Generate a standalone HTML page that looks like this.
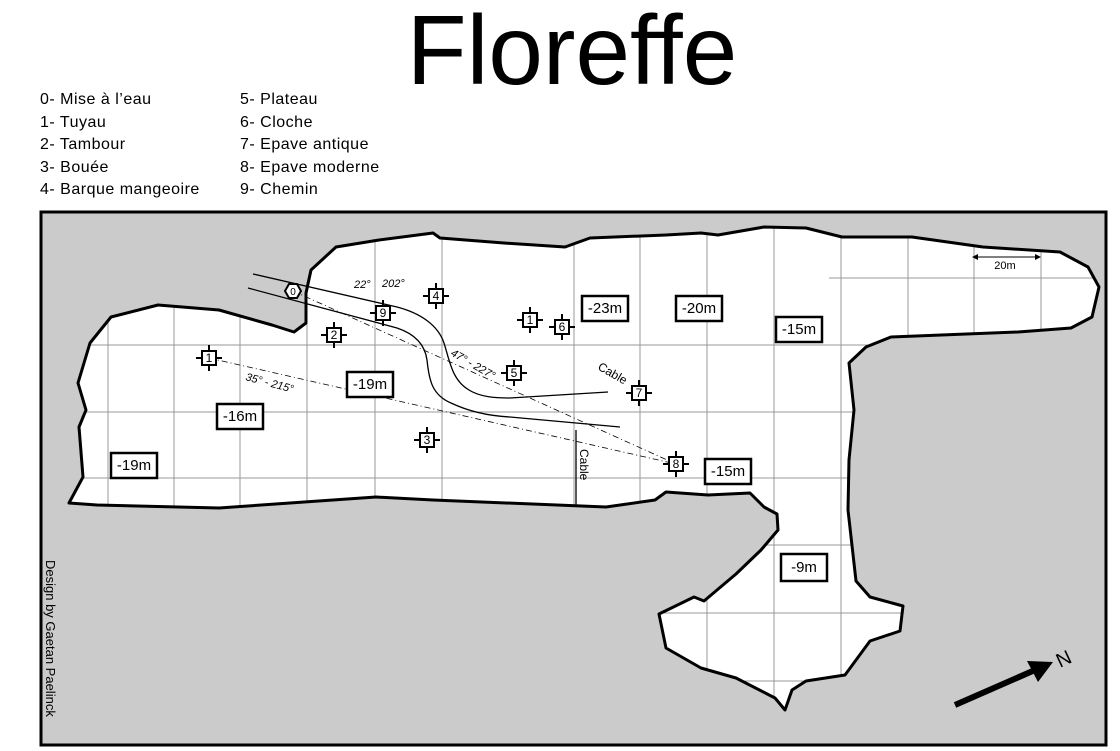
<!DOCTYPE html>
<html><head><meta charset="utf-8"><style>
html,body{margin:0;padding:0;background:#fff;}
body{width:1120px;height:751px;overflow:hidden;position:relative;font-family:"Liberation Sans",sans-serif;}
</style></head><body>
<svg width="1120" height="751" viewBox="0 0 1120 751" xmlns="http://www.w3.org/2000/svg" style="position:absolute;left:0;top:0">
<defs>
<path id="lp" d="M111,317 L158,305 L219,310 L272,325 L294,332 L306,323 L306,293 L311,270 L336,247 L379,240 L433,233 L440,238 L504,243 L565,247 L590,238 L666,235 L701,233 L718,235 L764,227 L806,228 L842,237 L912,237 L983,247 L1060,252 L1088,267 L1099,287 L1092,317 L1071,328 L1018,332 L891,337 L866,347 L849,363 L854,410 L849,460 L848,510 L856,581 L870,597 L903,606 L900,631 L870,641 L845,675 L806,681 L792,690 L785,710 L775,698 L736,678 L701,668 L666,648 L659,614 L694,597 L704,601 L736,574 L761,550 L778,530 L777,514 L764,507 L750,493 L708,495 L666,492 L655,500 L606,507 L433,500 L376,497 L290,503 L219,508 L97,505 L69,503 L83,477 L79,427 L86,410 L78,383 L90,343 Z"/>
<clipPath id="land"><use href="#lp"/></clipPath>
</defs>
<text x="572" y="84" font-size="98" text-anchor="middle" font-family="Liberation Sans, sans-serif">Floreffe</text>
<g font-size="16" letter-spacing="0.5" font-family="Liberation Sans, sans-serif">
<text x="40" y="104">0- Mise à l’eau</text>
<text x="40" y="127">1- Tuyau</text>
<text x="40" y="149">2- Tambour</text>
<text x="40" y="172">3- Bouée</text>
<text x="40" y="194">4- Barque mangeoire</text>
<text x="240" y="104">5- Plateau</text>
<text x="240" y="127">6- Cloche</text>
<text x="240" y="149">7- Epave antique</text>
<text x="240" y="172">8- Epave moderne</text>
<text x="240" y="194">9- Chemin</text>
</g>
<rect x="41" y="212" width="1065" height="533" fill="#cbcbcb" stroke="#000" stroke-width="3"/>
<use href="#lp" fill="#fff"/>
<g clip-path="url(#land)" stroke="#999" stroke-width="1">
<path d="M108,200V750M174,200V750M240,200V750M307,200V750M375,200V750M442,200V750M574,200V750M640,200V750M707,200V750M774,200V750M841,200V750M908,200V750M974,200V750M1041,200V750"/>
<path d="M829,278H1110M40,345H1110M40,412H1110M40,478H1110M40,545H1110M40,613H1110M40,681H1110"/>
</g>
<use href="#lp" fill="none" stroke="#000" stroke-width="3" stroke-linejoin="round"/>
<path d="M253,274 L397,307 C420,313 438,325 444,343 C450,362 452,380 469,390 C480,397 495,398 510,398 L608,392" fill="none" stroke="#000" stroke-width="1.3"/>
<path d="M248,288 L397,328 C415,334 425,345 427,360 C429,380 432,395 451,403 C470,412 490,416 510,417 L620,427" fill="none" stroke="#000" stroke-width="1.3"/>
<path d="M293,291 L676,464 M209,358 L676,464" stroke="#000" stroke-width="0.8" stroke-dasharray="6,3,1,3" fill="none"/>
<path d="M576,430 V505" stroke="#000" stroke-width="1.3"/>
<text transform="translate(580,449) rotate(90)" font-size="12">Cable</text>
<text transform="translate(597,369) rotate(30)" font-size="12">Cable</text>
<g font-size="11" font-style="italic">
<text x="354" y="288">22°</text><text x="382" y="287">202°</text>
<text transform="translate(450,355) rotate(30)">47° - 227°</text>
<text transform="translate(245,380) rotate(15)">35° - 215°</text>
</g>
<polygon points="285,291 289,284 297,284 301,291 297,298 289,298" fill="#fff" stroke="#000" stroke-width="2"/>
<text x="293" y="295" font-size="10" text-anchor="middle">0</text>
<g stroke="#000" stroke-width="2" fill="#fff" font-size="12">
<g transform="translate(436,296)"><path d="M-13,0H13M0,-13V13"/><rect x="-7" y="-7" width="14" height="14"/><text x="0" y="4" text-anchor="middle" stroke="none" fill="#000">4</text></g>
<g transform="translate(383,313)"><path d="M-13,0H13M0,-13V13"/><rect x="-7" y="-7" width="14" height="14"/><text x="0" y="4" text-anchor="middle" stroke="none" fill="#000">9</text></g>
<g transform="translate(334,335)"><path d="M-13,0H13M0,-13V13"/><rect x="-7" y="-7" width="14" height="14"/><text x="0" y="4" text-anchor="middle" stroke="none" fill="#000">2</text></g>
<g transform="translate(209,358)"><path d="M-13,0H13M0,-13V13"/><rect x="-7" y="-7" width="14" height="14"/><text x="0" y="4" text-anchor="middle" stroke="none" fill="#000">1</text></g>
<g transform="translate(530,320)"><path d="M-13,0H13M0,-13V13"/><rect x="-7" y="-7" width="14" height="14"/><text x="0" y="4" text-anchor="middle" stroke="none" fill="#000">1</text></g>
<g transform="translate(562,327)"><path d="M-13,0H13M0,-13V13"/><rect x="-7" y="-7" width="14" height="14"/><text x="0" y="4" text-anchor="middle" stroke="none" fill="#000">6</text></g>
<g transform="translate(514,373)"><path d="M-13,0H13M0,-13V13"/><rect x="-7" y="-7" width="14" height="14"/><text x="0" y="4" text-anchor="middle" stroke="none" fill="#000">5</text></g>
<g transform="translate(427,440)"><path d="M-13,0H13M0,-13V13"/><rect x="-7" y="-7" width="14" height="14"/><text x="0" y="4" text-anchor="middle" stroke="none" fill="#000">3</text></g>
<g transform="translate(639,393)"><path d="M-13,0H13M0,-13V13"/><rect x="-7" y="-7" width="14" height="14"/><text x="0" y="4" text-anchor="middle" stroke="none" fill="#000">7</text></g>
<g transform="translate(676,464)"><path d="M-13,0H13M0,-13V13"/><rect x="-7" y="-7" width="14" height="14"/><text x="0" y="4" text-anchor="middle" stroke="none" fill="#000">8</text></g>
</g>
<g stroke="#000" stroke-width="2.5" fill="#fff" font-size="15">
<g transform="translate(370,384)"><rect x="-23" y="-12" width="46" height="25"/><text x="0" y="5" text-anchor="middle" stroke="none" fill="#000">-19m</text></g>
<g transform="translate(240,416)"><rect x="-23" y="-12" width="46" height="25"/><text x="0" y="5" text-anchor="middle" stroke="none" fill="#000">-16m</text></g>
<g transform="translate(134,465)"><rect x="-23" y="-12" width="46" height="25"/><text x="0" y="5" text-anchor="middle" stroke="none" fill="#000">-19m</text></g>
<g transform="translate(605,308)"><rect x="-23" y="-12" width="46" height="25"/><text x="0" y="5" text-anchor="middle" stroke="none" fill="#000">-23m</text></g>
<g transform="translate(699,308)"><rect x="-23" y="-12" width="46" height="25"/><text x="0" y="5" text-anchor="middle" stroke="none" fill="#000">-20m</text></g>
<g transform="translate(799,329)"><rect x="-23" y="-12" width="46" height="25"/><text x="0" y="5" text-anchor="middle" stroke="none" fill="#000">-15m</text></g>
<g transform="translate(728,471)"><rect x="-23" y="-12" width="46" height="25"/><text x="0" y="5" text-anchor="middle" stroke="none" fill="#000">-15m</text></g>
<g transform="translate(804,567)"><rect x="-23" y="-13" width="46" height="27"/><text x="0" y="5" text-anchor="middle" stroke="none" fill="#000">-9m</text></g>
</g>
<path d="M975,257H1038" stroke="#000" stroke-width="1"/>
<path d="M972,257l6,-3v6zM1041,257l-6,-3v6z" fill="#000"/>
<text x="1005" y="269" font-size="11" text-anchor="middle">20m</text>
<path d="M955,705 L1035,670" stroke="#000" stroke-width="6"/>
<polygon points="1053,662 1027,661 1038,682" fill="#000"/>
<text transform="translate(1060,668) rotate(-25)" font-size="20">N</text>
<text transform="translate(46,560) rotate(90)" font-size="13">Design by Gaetan Paelinck</text>
</svg>
</body></html>
